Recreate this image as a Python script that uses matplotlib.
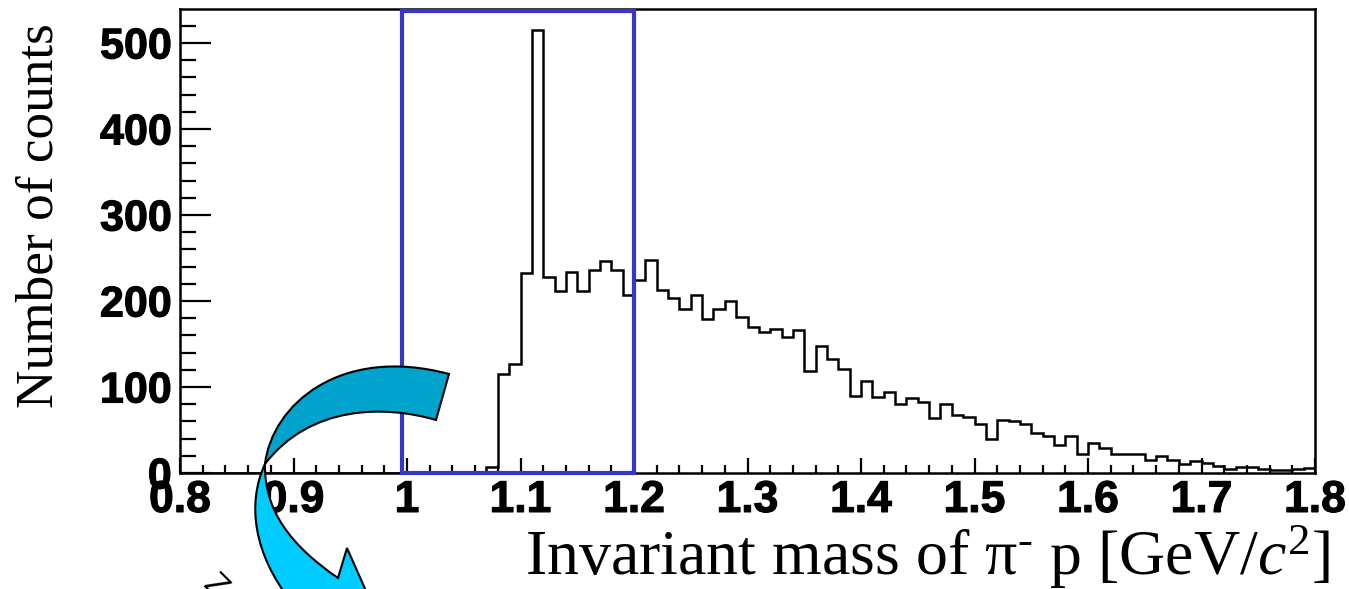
import matplotlib
matplotlib.use("Agg")
import matplotlib.pyplot as plt
import matplotlib.patheffects as pe
from matplotlib.patches import PathPatch, Rectangle
from matplotlib.path import Path
from matplotlib.ticker import MultipleLocator
import numpy as np

plt.rcParams["mathtext.fontset"] = "custom"
plt.rcParams["mathtext.rm"] = "Liberation Serif"
plt.rcParams["mathtext.it"] = "Liberation Serif:italic"

W, H = 1349, 589
bin_edges_start = 0.8
bin_width = 0.01
counts = [0]*27 + [7, 115, 127, 233, 515, 228, 212, 234, 212, 236, 246, 236, 207,
          224, 248, 213, 203, 191, 207, 179, 191, 200, 181,
          170, 164, 168, 158, 166, 119, 148, 132, 121, 89,
          107, 88, 94, 80, 87, 82, 64, 80, 67, 65,
          57, 39, 62, 60, 57, 46, 43, 33, 43, 22,
          35, 29, 22, 22, 22, 15, 20, 15, 11, 14,
          12, 8, 5, 7, 7, 5, 4, 4, 5, 6]
xticks = [0.8, 0.9, 1, 1.1, 1.2, 1.3, 1.4, 1.5, 1.6, 1.7, 1.8]
xlabels = ["0.8", "0.9", "1", "1.1", "1.2", "1.3", "1.4", "1.5", "1.6", "1.7", "1.8"]
yticks = [0, 100, 200, 300, 400, 500]
box_range = (0.9956, 1.2)
box_top = 537

fig = plt.figure(figsize=(W/100, H/100), dpi=100, facecolor="white")
L, R, T, B = 180, 1315, 9, 473
ax = fig.add_axes([L/W, 1-B/H, (R-L)/W, (B-T)/H])
edges = bin_edges_start + bin_width*np.arange(len(counts)+1)
ax.stairs(counts, edges, color="black", lw=1.8, baseline=None)
ax.set_xlim(0.8, 1.8)
ax.set_ylim(0, 539.5)
ax.set_xticks(xticks, xlabels)
ax.set_yticks(yticks)
ax.xaxis.set_minor_locator(MultipleLocator(0.02))
ax.yaxis.set_minor_locator(MultipleLocator(20))
px = 0.72
ax.tick_params(axis="x", which="major", direction="in", length=15*px, width=1.6, pad=5, labelsize=32)
ax.tick_params(axis="x", which="minor", direction="in", length=8*px, width=1.6)
ax.tick_params(axis="y", which="major", direction="in", length=31*px, width=1.6, pad=6, labelsize=31)
ax.tick_params(axis="y", which="minor", direction="in", length=16*px, width=1.6)
for t in ax.get_xticklabels() + ax.get_yticklabels():
    t.set_fontfamily("Liberation Sans")
    t.set_fontweight("bold")
    t.set_path_effects([pe.withStroke(linewidth=0.8, foreground="black")])
for s in ax.spines.values():
    s.set_linewidth(1.8)
ax.add_patch(Rectangle((box_range[0], 0), box_range[1]-box_range[0], box_top,
                       fill=False, ec="#3636C8", lw=3.0, zorder=5, clip_on=False))

over = fig.add_axes([0, 0, 1, 1], facecolor="none")
over.set_xlim(0, W)
over.set_ylim(H, 0)
over.axis("off")
C3 = Path.CURVE4
LT = Path.LINETO
MV = Path.MOVETO
a1 = [(265, 464), (272, 405), (340, 345), (449, 374), (436, 420), (385, 405), (310, 405), (265, 464)]
c1 = [MV, C3, C3, C3, LT, C3, C3, C3]
over.add_patch(PathPatch(Path(a1, c1), fc="#00A3CC", ec="black", lw=1.5))
a2 = [(265, 464), (246, 505), (255, 555), (290, 600), (370, 600), (347, 548), (338, 578),
      (290, 545), (264, 510), (265, 464)]
c2 = [MV, C3, C3, C3, LT, LT, LT, C3, C3, C3]
over.add_patch(PathPatch(Path(a2, c2), fc="#00CCFF", ec="black", lw=1.5))
over.text(215, 587, "Z", family="Liberation Sans", fontsize=24, rotation=-45,
          ha="center", va="center", rotation_mode="anchor")

fig.text(40/W, 1-216/H, "Number of counts", family="Liberation Serif", fontsize=38.3,
         rotation=90, ha="center", va="center")
fig.text(1330/W, 1-557/H, r"Invariant mass of π$^{\mathrm{\text{-}}}$ p [GeV/$\mathit{c}^{\mathrm{2}}$]",
         family="Liberation Serif", fontsize=46, ha="right", va="center")
fig.savefig("out.png", dpi=100)
